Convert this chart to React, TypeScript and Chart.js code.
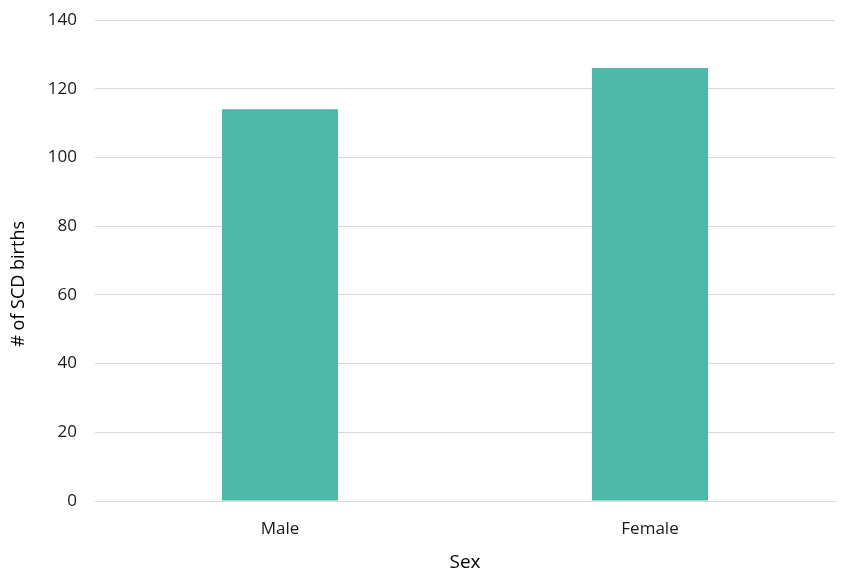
import { useEffect, useRef } from "react";
import { Chart, ChartConfiguration, registerables } from "chart.js";
Chart.register(...registerables);

const categories = ["Male", "Female"];
const births = [114, 126];
const yTicks = [0, 20, 40, 60, 80, 100, 120, 140];

const FONT = "'Open Sans', 'Noto Sans', sans-serif";

const App = () => {
  const ref = useRef<HTMLCanvasElement>(null);

  useEffect(() => {
    const config: ChartConfiguration = {
      type: "bar",
      data: {
        labels: categories,
        datasets: [
          {
            label: "# of SCD births",
            data: births,
            backgroundColor: "#4fb9a9",
            categoryPercentage: 1,
            barPercentage: 0.314,
          },
        ],
      },
      options: {
        animation: false,
        responsive: false,
        layout: { padding: { top: 20, right: 13, left: 4, bottom: 0 } },
        plugins: { legend: { display: false }, tooltip: { enabled: false } },
        scales: {
          x: {
            grid: { display: false },
            border: { color: "#d9d9d9" },
            ticks: { color: "#1a1a1a", font: { family: FONT, size: 17 }, padding: 10 },
            title: {
              display: true,
              text: "Sex",
              color: "#000",
              font: { family: FONT, size: 19 },
              padding: { top: 2 },
            },
            afterFit: (scale) => {
              scale.height = 77;
              scale.paddingLeft = 0;
              scale.paddingRight = 0;
            },
          },
          y: {
            min: 0,
            max: 140,
            afterBuildTicks: (scale) => {
              scale.ticks = yTicks.map((v) => ({ value: v }));
            },
            grid: { color: "#d9d9d9", drawTicks: false },
            border: { display: false },
            ticks: { color: "#1a1a1a", font: { family: FONT, size: 17 }, padding: 18 },
            title: {
              display: true,
              // trailing spaces nudge the label down like the original
              text: "# of SCD births" + "\u00a0".repeat(10),
              color: "#000",
              font: { family: FONT, size: 18 },
            },
            afterFit: (scale) => {
              scale.width = 91;
              scale.paddingTop = 0;
              scale.paddingBottom = 0;
            },
          },
        },
      },
    };
    const chart = new Chart(ref.current!, config);
    return () => {
      chart.destroy();
    };
  }, []);

  return (
    <div style={{ position: "absolute", left: 0, top: 0, width: 848, height: 578, background: "#fff" }}>
      <canvas ref={ref} width={848} height={578}></canvas>
    </div>
  );
};
export default App;
